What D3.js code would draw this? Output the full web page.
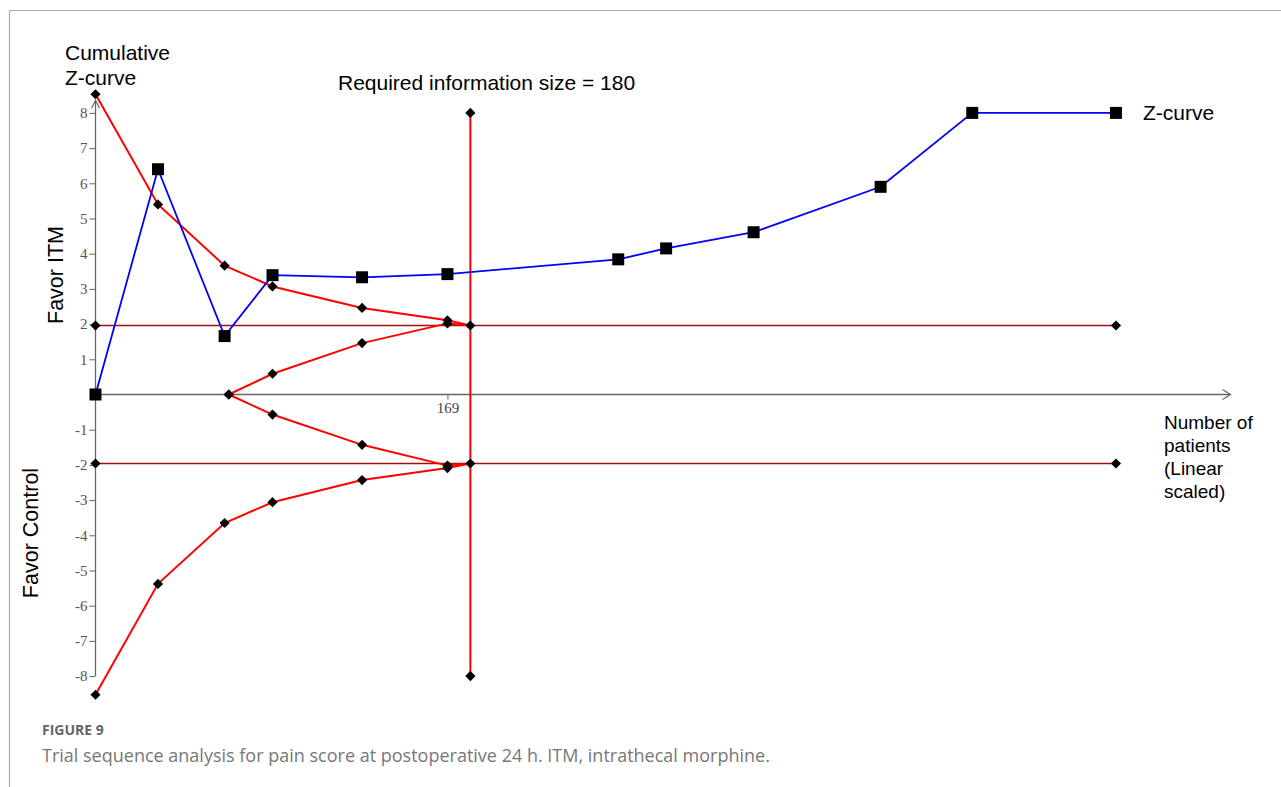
<!DOCTYPE html>
<html>
<head>
<meta charset="utf-8">
<script src="https://cdn.jsdelivr.net/npm/d3@7"></script>
<style>
  html, body { margin: 0; padding: 0; background: #fff; }
  svg { display: block; }
</style>
</head>
<body>
<svg id="chart" width="1281" height="787"></svg>
<script>
// Cumulative Z-curve (number of patients, Z value)
const zPatients = [0, 30, 62, 85, 128, 169, 251, 274, 316, 377, 421, 490];
const zValues   = [0, 6.40, 1.66, 3.39, 3.33, 3.42, 3.84, 4.15, 4.61, 5.90, 8, 8];

// Trial sequential monitoring boundaries
const boundPatients = [0, 30, 62, 85, 128, 169, 180];
const boundUpper    = [8.53, 5.40, 3.66, 3.07, 2.46, 2.11, 1.96];
const boundLower    = [-8.53, -5.38, -3.65, -3.06, -2.43, -2.09, -1.96];

// Futility (inner wedge) boundaries
const futPatients = [64, 85, 128, 169, 180];
const futUpper    = [0, 0.59, 1.46, 2.02, 1.96];
const futLower    = [0, -0.57, -1.43, -2.02, -1.96];

// Conventional significance lines and required information size
const conventionalZ = [1.96, -1.96];
const conventionalEnd = 490;
const requiredInfoSize = 180;
const risRange = [-8, 8];

// Axis ticks
const yTicks = [-8, -7, -6, -5, -4, -3, -2, -1, 1, 2, 3, 4, 5, 6, 7, 8];
const xTicks = [169];

const svg = d3.select("#chart");

// Frame lines
svg.append("line").attr("x1", 9.5).attr("x2", 1281).attr("y1", 10.5).attr("y2", 10.5)
  .attr("stroke", "#aaa").attr("stroke-width", 1.2);
svg.append("line").attr("x1", 9.5).attr("x2", 9.5).attr("y1", 10.5).attr("y2", 787)
  .attr("stroke", "#aaa").attr("stroke-width", 1.2);

const x = d3.scaleLinear().domain([0, 545]).range([95.5, 1230.5]);
const y = d3.scaleLinear().domain([-8, 8]).range([676.1, 112.9]);

const axisColor = "#666";
const serif = "'Liberation Serif', 'DejaVu Serif', serif";
const sans = "'Liberation Sans', Arial, sans-serif";

// Y axis
const yAxis = d3.axisLeft(y).tickValues(yTicks).tickSize(6).tickPadding(2)
  .tickFormat(d3.format("d"));
const gy = svg.append("g").attr("transform", `translate(${x(0)},0)`).call(yAxis);
gy.select(".domain").remove();
gy.selectAll(".tick line").attr("stroke", axisColor);
gy.selectAll(".tick text").attr("fill", "#555").attr("font-family", serif)
  .attr("font-size", 15).text(d => d < 0 ? "-" + Math.abs(d) : d);

const yTop = y(8.36);
svg.append("line").attr("x1", x(0)).attr("x2", x(0)).attr("y1", y(-8)).attr("y2", yTop)
  .attr("stroke", axisColor).attr("stroke-width", 1.3);
svg.append("path")
  .attr("d", `M${x(0) - 4},${yTop + 8} L${x(0)},${yTop} L${x(0) + 4},${yTop + 8}`)
  .attr("fill", "none").attr("stroke", axisColor).attr("stroke-width", 1.2);

// X axis
const xAxis = d3.axisBottom(x).tickValues(xTicks).tickSize(5).tickPadding(3);
const gx = svg.append("g").attr("transform", `translate(0,${y(0)})`).call(xAxis);
gx.select(".domain").remove();
gx.selectAll(".tick line").attr("stroke", axisColor);
gx.selectAll(".tick text").attr("fill", "#444").attr("font-family", serif).attr("font-size", 15);

const xEnd = x(545);
svg.append("line").attr("x1", x(0)).attr("x2", xEnd).attr("y1", y(0)).attr("y2", y(0))
  .attr("stroke", axisColor).attr("stroke-width", 1.3);
svg.append("path")
  .attr("d", `M${xEnd - 8},${y(0) - 5} L${xEnd},${y(0)} L${xEnd - 8},${y(0) + 5}`)
  .attr("fill", "none").attr("stroke", axisColor).attr("stroke-width", 1.2);

const line = d3.line().x(d => x(d[0])).y(d => y(d[1]));
const square = d3.symbol().type(d3.symbolSquare).size(144);

function diamonds(points) {
  svg.append("g").selectAll("path").data(points).join("path")
    .attr("d", d3.symbol().type(d3.symbolSquare).size(52))
    .attr("transform", d => `translate(${x(d[0])},${y(d[1])}) rotate(45)`)
    .attr("fill", "#000");
}

// Conventional boundaries (±1.96)
conventionalZ.forEach(z => {
  svg.append("path").datum([[0, z], [conventionalEnd, z]]).attr("d", line)
    .attr("stroke", "#a01010").attr("stroke-width", 1.6).attr("fill", "none");
});

// Required information size line
svg.append("path").datum([[requiredInfoSize, risRange[0]], [requiredInfoSize, risRange[1]]])
  .attr("d", line).attr("stroke", "#ff0000").attr("stroke-width", 2).attr("fill", "none");

// Monitoring and futility boundaries
const bUp = boundPatients.map((p, i) => [p, boundUpper[i]]);
const bLo = boundPatients.map((p, i) => [p, boundLower[i]]);
const fUp = futPatients.map((p, i) => [p, futUpper[i]]);
const fLo = futPatients.map((p, i) => [p, futLower[i]]);
[bUp, bLo, fUp, fLo].forEach(pts => {
  svg.append("path").datum(pts).attr("d", line)
    .attr("stroke", "#ff0000").attr("stroke-width", 2).attr("fill", "none");
});

// Z-curve
const zPts = zPatients.map((p, i) => [p, zValues[i]]);
svg.append("path").datum(zPts).attr("d", line)
  .attr("stroke", "#0000ff").attr("stroke-width", 1.8).attr("fill", "none");

// Markers
diamonds(bUp.slice(0, -1));
diamonds(bLo.slice(0, -1));
diamonds(fUp.slice(0, -1));
diamonds(fLo.slice(0, -1));
diamonds(conventionalZ.flatMap(z => [[0, z], [requiredInfoSize, z], [conventionalEnd, z]]));
diamonds([[requiredInfoSize, risRange[0]], [requiredInfoSize, risRange[1]]]);

svg.append("g").selectAll("path").data(zPts).join("path")
  .attr("d", square)
  .attr("transform", d => `translate(${x(d[0])},${y(d[1])})`)
  .attr("fill", "#000");

// Text labels
function label(txt, px, py, opts = {}) {
  const t = svg.append("text").attr("x", px).attr("y", py)
    .attr("font-family", sans).attr("font-size", opts.size || 21)
    .attr("fill", "#000").text(txt);
  if (opts.anchor) t.attr("text-anchor", opts.anchor);
  if (opts.rotate) t.attr("transform", `rotate(-90,${px},${py})`);
  return t;
}

label("Cumulative", 65, 60);
label("Z-curve", 65, 85);
label("Required information size = 180", 338, 90);
label("Z-curve", 1143, 120);
label("Favor ITM", 63, 275, { rotate: true, anchor: "middle", size: 21.5 });
label("Favor Control", 38, 533, { rotate: true, anchor: "middle", size: 21.5 });
["Number of", "patients", "(Linear", "scaled)"].forEach((s, i) => {
  label(s, 1164, 429 + i * 23, { size: 19 });
});

// Caption
svg.append("text").attr("x", 42).attr("y", 735)
  .attr("font-family", "'Open Sans', 'Noto Sans', sans-serif").attr("font-weight", 700)
  .attr("font-size", 14).attr("fill", "#666").text("FIGURE 9");
svg.append("text").attr("x", 42).attr("y", 762)
  .attr("font-family", "'Open Sans', 'Noto Sans', sans-serif")
  .attr("font-size", 18).attr("fill", "#777")
  .text("Trial sequence analysis for pain score at postoperative 24 h. ITM, intrathecal morphine.");
</script>
</body>
</html>
